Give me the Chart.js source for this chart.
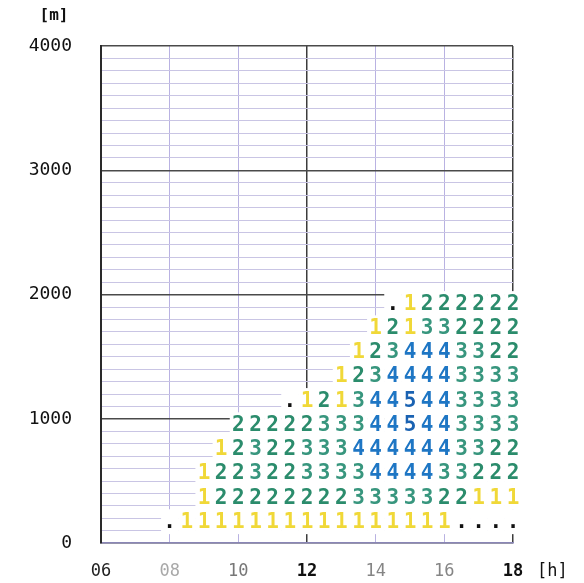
<!DOCTYPE html>
<html lang="en">
<head>
  <meta charset="UTF-8">
  <title>Thermal index chart</title>
  <script src="https://cdn.jsdelivr.net/npm/chart.js"></script>
  <style>
    body {
      margin: 0;
      padding: 0;
      background: #fff;
    }
    canvas {
      display: block;
    }
  </style>
</head>
<body>
  <canvas id="chart" width="584" height="583"></canvas>

  <script>
    // half-hour columns, 08:00 .. 18:00
    const times = [8, 8.5, 9, 9.5, 10, 10.5, 11, 11.5, 12, 12.5, 13, 13.5, 14, 14.5, 15, 15.5, 16, 16.5, 17, 17.5, 18];
    // row heights [m], bottom to top
    const heights = [175, 370, 565, 760, 955, 1150, 1345, 1540, 1735, 1930];

    // values per row (0 is drawn as '.', null = empty)
    const n = null;
    const lv175  = [0, 1, 1, 1, 1, 1, 1, 1, 1, 1, 1, 1, 1, 1, 1, 1, 1, 0, 0, 0, 0];
    const lv370  = [n, n, 1, 2, 2, 2, 2, 2, 2, 2, 2, 3, 3, 3, 3, 3, 2, 2, 1, 1, 1];
    const lv565  = [n, n, 1, 2, 2, 3, 2, 2, 3, 3, 3, 3, 4, 4, 4, 4, 3, 3, 2, 2, 2];
    const lv760  = [n, n, n, 1, 2, 3, 2, 2, 3, 3, 3, 4, 4, 4, 4, 4, 4, 3, 3, 2, 2];
    const lv955  = [n, n, n, n, 2, 2, 2, 2, 2, 3, 3, 3, 4, 4, 5, 4, 4, 3, 3, 3, 3];
    const lv1150 = [n, n, n, n, n, n, n, 0, 1, 2, 1, 3, 4, 4, 5, 4, 4, 3, 3, 3, 3];
    const lv1345 = [n, n, n, n, n, n, n, n, n, n, 1, 2, 3, 4, 4, 4, 4, 3, 3, 3, 3];
    const lv1540 = [n, n, n, n, n, n, n, n, n, n, n, 1, 2, 3, 4, 4, 4, 3, 3, 2, 2];
    const lv1735 = [n, n, n, n, n, n, n, n, n, n, n, n, 1, 2, 1, 3, 3, 2, 2, 2, 2];
    const lv1930 = [n, n, n, n, n, n, n, n, n, n, n, n, n, 0, 1, 2, 2, 2, 2, 2, 2];
    const rows = [lv175, lv370, lv565, lv760, lv955, lv1150, lv1345, lv1540, lv1735, lv1930];

    const levels = [0, 1, 2, 3, 4, 5];
    const levelText = ['.', '1', '2', '3', '4', '5'];
    const levelColors = ['#111111', '#f0d838', '#2b8c6c', '#38967e', '#1e76c4', '#1a62b2'];

    const xTicks = [6, 8, 10, 12, 14, 16, 18];
    const xTickColors = ['#222222', '#a8a8a8', '#777777', '#111111', '#858585', '#858585', '#111111'];

    const datasets = levels.map((lv) => {
      const pts = [];
      rows.forEach((row, r) => {
        row.forEach((v, i) => {
          if (v === lv) pts.push({ x: times[i], y: heights[r] });
        });
      });
      return {
        label: 'Level ' + lv,
        data: pts,
        pointRadius: 0,
        pointHoverRadius: 0,
        showLine: false
      };
    });

    // white cell + digit for each point
    const cellPlugin = {
      id: 'cells',
      afterDatasetsDraw(chart) {
        const { ctx, scales: { x, y } } = chart;
        const hw = (x.getPixelForValue(0.5) - x.getPixelForValue(0)) / 2;
        const hh = (y.getPixelForValue(0) - y.getPixelForValue(196)) / 2;
        ctx.save();
        ctx.fillStyle = '#ffffff';
        chart.data.datasets.forEach((ds, i) => {
          chart.getDatasetMeta(i).data.forEach((p) => {
            ctx.fillRect(p.x - hw, p.y - hh, hw * 2 + 0.5, hh * 2 + 0.5);
          });
        });
        ctx.font = 'bold 21px "DejaVu Sans Mono"';
        ctx.textAlign = 'center';
        ctx.textBaseline = 'middle';
        chart.data.datasets.forEach((ds, i) => {
          ctx.fillStyle = levelColors[i];
          chart.getDatasetMeta(i).data.forEach((p) => {
            ctx.fillText(levelText[i], p.x, p.y + 1);
          });
        });
        ctx.restore();
      }
    };

    // unit labels
    const unitPlugin = {
      id: 'units',
      afterDraw(chart) {
        const { ctx } = chart;
        ctx.save();
        ctx.fillStyle = '#111';
        ctx.font = 'bold 16px "DejaVu Sans Mono"';
        ctx.textBaseline = 'middle';
        ctx.textAlign = 'center';
        ctx.fillText('[m]', 54, 16);
        ctx.font = '17px "DejaVu Sans Mono"';
        ctx.textAlign = 'left';
        ctx.fillText('[h]', 537, 572);
        ctx.restore();
      }
    };

    const chart = new Chart(document.getElementById('chart'), {
      type: 'scatter',
      data: { datasets: datasets },
      options: {
        responsive: false,
        animation: false,
        devicePixelRatio: 1,
        layout: { padding: { top: 46, right: 71, left: 0, bottom: 0 } },
        plugins: {
          legend: { display: false },
          tooltip: { enabled: false }
        },
        scales: {
          x: {
            type: 'linear',
            min: 6,
            max: 18,
            afterBuildTicks: (scale) => {
              scale.ticks = xTicks.map((v) => ({ value: v }));
            },
            afterFit: (scale) => { scale.height = 38; },
            ticks: {
              padding: 18,
              autoSkip: false,
              maxRotation: 0,
              callback: (v) => String(v).padStart(2, '0'),
              color: (c) => xTickColors[c.index],
              font: (c) => ({
                family: 'DejaVu Sans Mono',
                size: 17,
                weight: (c.tick && (c.tick.value === 12 || c.tick.value === 18)) ? 'bold' : 'normal'
              })
            },
            grid: {
              drawTicks: false,
              color: (c) => (c.tick && (c.tick.value === 12 || c.tick.value === 18)) ? '#3c3c3c' : '#b9b2e2',
              lineWidth: (c) => (c.tick && (c.tick.value === 12 || c.tick.value === 18)) ? 1.5 : 1
            },
            border: { color: '#8a86b6', width: 1.5 }
          },
          y: {
            min: 0,
            max: 4000,
            afterFit: (scale) => { scale.width = 101; },
            ticks: {
              stepSize: 100,
              autoSkip: false,
              padding: 29,
              color: '#111',
              font: { family: 'DejaVu Sans Mono', size: 18 },
              callback: (v) => (v % 1000 === 0 ? String(v) : '')
            },
            grid: {
              drawTicks: false,
              color: (c) => (c.tick && c.tick.value % 1000 === 0) ? '#4a4a4a' : '#c9c5e4',
              lineWidth: (c) => (c.tick && c.tick.value % 1000 === 0) ? 1.5 : 1
            },
            border: { color: '#2a2a2a', width: 2 }
          }
        }
      },
      plugins: [cellPlugin, unitPlugin]
    });
  </script>
</body>
</html>
